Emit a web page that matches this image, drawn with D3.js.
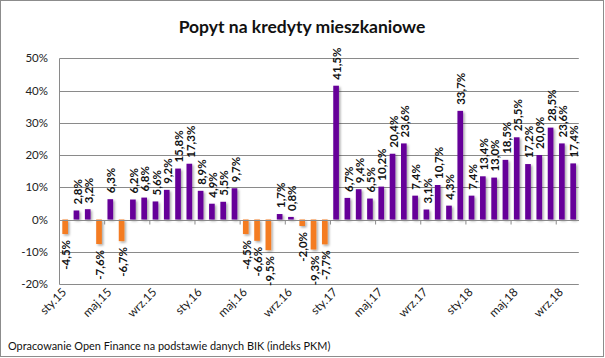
<!DOCTYPE html>
<html><head><meta charset="utf-8">
<script src="https://cdn.jsdelivr.net/npm/d3@7"></script>
<style>
body{margin:0;background:#fff;}
svg{display:block;font-family:Lato,"Open Sans",sans-serif;}
</style></head>
<body>
<svg id="c" width="605" height="358"></svg>
<script>
const monthNames = ["sty","lut","mar","kwi","maj","cze","lip","sie","wrz","paź","lis","gru"];
const years = ["15","16","17","18"];
const categories = [];
years.forEach(y => monthNames.forEach(m => categories.push(m + "." + y)));
categories.splice(46); // sty.15 ... paź.18
const values = [
  -4.5, 2.8, 3.2, -7.6, 6.3, -6.7, 6.2, 6.8, 5.6, 9.2, 15.8, 17.3,
  8.9, 4.9, 5.5, 9.7, -4.5, -6.6, -9.5, 1.7, 0.8, -2.0, -9.3, -7.7,
  41.5, 6.7, 9.4, 6.5, 10.2, 20.4, 23.6, 7.4, 3.1, 10.7, 4.3, 33.7,
  7.4, 13.4, 13.0, 18.5, 25.5, 17.2, 20.0, 28.5, 23.6, 17.4
];
const yTicks = [-20, -10, 0, 10, 20, 30, 40, 50];
const title = "Popyt na kredyty mieszkaniowe";
const source = "Opracowanie Open Finance na podstawie danych BIK (indeks PKM)";
const posColor = "#660099", negColor = "#F47B20";

const svg = d3.select("#c");
svg.append("rect").attr("x",0.5).attr("y",0.5).attr("width",603).attr("height",356)
  .attr("fill","#fff").attr("stroke","#8c8c8c");

const defs = svg.append("defs");
const f = defs.append("filter").attr("id","sh").attr("x","-50%").attr("y","-20%").attr("width","200%").attr("height","140%");
f.append("feDropShadow").attr("dx",1.5).attr("dy",1.5).attr("stdDeviation",1.2)
  .attr("flood-color","#000").attr("flood-opacity",0.35);

const x = d3.scaleBand().domain(categories).range([59.5, 578.8]).paddingInner(0.5).paddingOuter(0.25);
const y = d3.scaleLinear().domain([-20, 50]).range([284, 58.3]);

const fmt = v => d3.format(".1f")(v).replace(".", ",").replace("−","-") + "%";

svg.append("g").selectAll("line").data(yTicks).join("line")
  .attr("x1",59.5).attr("x2",578.8)
  .attr("y1",d=>Math.round(y(d))+0.5).attr("y2",d=>Math.round(y(d))+0.5)
  .attr("stroke","#8a8a8a").attr("stroke-width",1);

svg.append("line").attr("x1",59.5).attr("x2",59.5).attr("y1",Math.round(y(50))+0.5).attr("y2",Math.round(y(-20))+0.5)
  .attr("stroke","#8a8a8a");

svg.append("g").selectAll("text").data(yTicks).join("text")
  .attr("x",48).attr("y",d=>y(d)).attr("dy","0.35em").attr("text-anchor","end")
  .attr("font-size",11.5).attr("fill","#222").text(d=>d+"%");

svg.append("g").attr("filter","url(#sh)").selectAll("rect").data(values).join("rect")
  .attr("x",(d,i)=>x(categories[i])).attr("width",x.bandwidth())
  .attr("y",d=>y(Math.max(0,d))).attr("height",d=>Math.abs(y(d)-y(0)))
  .attr("fill",d=>d>=0?posColor:negColor);

const y0 = Math.round(y(0))+0.5;
svg.append("line").attr("x1",59.5).attr("x2",578.8).attr("y1",y0).attr("y2",y0).attr("stroke","#8a8a8a");
const tickIdx = d3.range(0, categories.length+1, 4);
svg.append("g").selectAll("line").data(tickIdx).join("line")
  .attr("x1",i=>59.5+i*(578.8-59.5)/categories.length).attr("x2",i=>59.5+i*(578.8-59.5)/categories.length)
  .attr("y1",y0).attr("y2",y0+4).attr("stroke","#8a8a8a");

svg.append("g").selectAll("text").data(categories.filter((c,i)=>i%4===0)).join("text")
  .attr("transform",c=>`translate(${x(c)+x.bandwidth()/2+2},${293}) rotate(-45)`)
  .attr("text-anchor","end").attr("font-size",11.8).attr("fill","#222").text(c=>c);

svg.append("g").selectAll("text").data(values).join("text")
  .attr("transform",(d,i)=>{
    const cx = x(categories[i]) + x.bandwidth()/2;
    const yy = d>=0 ? y(d)-6 : y(d)+6;
    return `translate(${cx},${yy}) rotate(-90)`;
  })
  .attr("dy","0.45em")
  .attr("text-anchor",d=>d>=0?"start":"end")
  .attr("font-size",11.5).attr("font-weight","bold").attr("fill","#111")
  .text(d=>fmt(d));

svg.append("text").attr("x",302).attr("y",33).attr("text-anchor","middle")
  .attr("font-size",17.5).attr("font-weight","bold").attr("fill","#111").text(title);

svg.append("text").attr("x",8).attr("y",350).attr("font-size",10.9).attr("fill","#111").text(source);
</script>
</body></html>
